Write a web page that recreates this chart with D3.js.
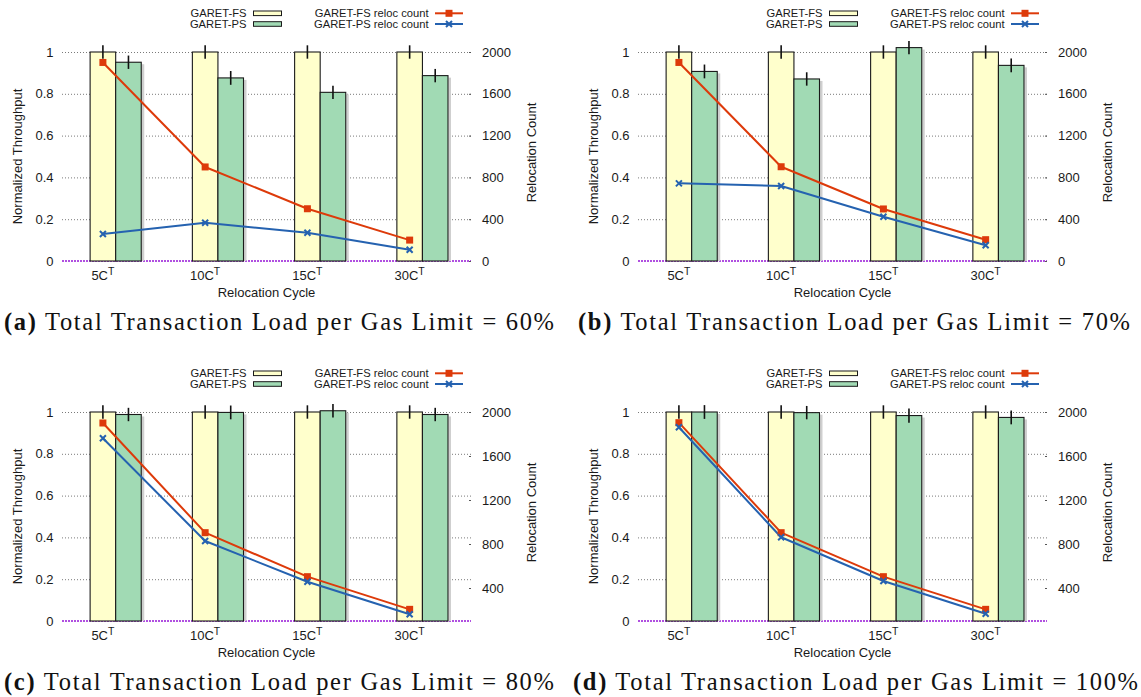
<!DOCTYPE html>
<html><head><meta charset="utf-8">
<script src="https://cdn.jsdelivr.net/npm/d3@7"></script>
<style>
body{margin:0;background:#fff;}
svg{display:block;}
text{font-family:"Liberation Sans",Arial,Helvetica,sans-serif;fill:#1a1a1a;}
</style>
</head><body>
<svg id="chart" width="1141" height="697"></svg>
<script>
// ---------------- data ----------------
const categories = ["5C", "10C", "15C", "30C"];
const seriesNames = ["GARET-FS", "GARET-PS"];
const lineNames = ["GARET-FS reloc count", "GARET-PS reloc count"];
const panelLetters = ["(a)", "(b)", "(c)", "(d)"];
const loadLevels = ["60%", "70%", "80%", "100%"];

// Normalized throughput (bars)
const fsThroughputA = [1, 1, 1, 1];
const psThroughputA = [0.951, 0.876, 0.807, 0.887];
const fsThroughputB = [1, 1, 1, 1];
const psThroughputB = [0.907, 0.871, 1.021, 0.936];
const fsThroughputC = [1, 1, 1, 1];
const psThroughputC = [0.988, 0.998, 1.006, 0.988];
const fsThroughputD = [1, 1, 1, 1];
const psThroughputD = [1.0, 0.997, 0.983, 0.974];

// error bar half-lengths
const fsErrA = [0.032, 0.032, 0.032, 0.032];
const psErrA = [0.032, 0.033, 0.032, 0.032];
const fsErrB = [0.032, 0.032, 0.032, 0.032];
const psErrB = [0.033, 0.032, 0.032, 0.033];
const fsErrC = [0.032, 0.032, 0.032, 0.032];
const psErrC = [0.032, 0.033, 0.032, 0.032];
const fsErrD = [0.032, 0.032, 0.032, 0.032];
const psErrD = [0.033, 0.032, 0.034, 0.033];

// Relocation counts (lines, right axis)
const fsRelocA = [1900, 900, 500, 200];
const psRelocA = [258, 366, 271, 108];
const fsRelocB = [1900, 902, 498, 204];
const psRelocB = [743, 718, 424, 150];
const fsRelocC = [1900, 903, 503, 206];
const psRelocC = [1761, 827, 457, 161];
const fsRelocD = [1903, 903, 503, 206];
const psRelocD = [1861, 861, 464, 166];

// tick labels
const yTicks = [0, 0.2, 0.4, 0.6, 0.8, 1];
const y2TicksAB = [0, 400, 800, 1200, 1600, 2000];
const y2TicksCD = [400, 800, 1200, 1600, 2000];
const y2DomainAB = [0, 2000];
const y2DomainCD = [100, 2000];

const panels = [
  {fs: fsThroughputA, ps: psThroughputA, fsE: fsErrA, psE: psErrA, fsR: fsRelocA, psR: psRelocA, y2d: y2DomainAB, y2t: y2TicksAB},
  {fs: fsThroughputB, ps: psThroughputB, fsE: fsErrB, psE: psErrB, fsR: fsRelocB, psR: psRelocB, y2d: y2DomainAB, y2t: y2TicksAB},
  {fs: fsThroughputC, ps: psThroughputC, fsE: fsErrC, psE: psErrC, fsR: fsRelocC, psR: psRelocC, y2d: y2DomainCD, y2t: y2TicksCD},
  {fs: fsThroughputD, ps: psThroughputD, fsE: fsErrD, psE: psErrD, fsR: fsRelocD, psR: psRelocD, y2d: y2DomainCD, y2t: y2TicksCD}
];

// ---------------- layout / style ----------------
const origins = [[0, 0], [576, 0], [0, 360], [576, 360]];
const captionX = [4, 578, 4, 573];
const captionW = [550, 552, 550, 565];
const FS_FILL = "#ffffcc", PS_FILL = "#a1dab4";
const RED = "#dd3a0a", BLUE = "#2562b0";
const PLOT_L = 62, PLOT_R = 471, Y0 = 261, Y1 = 52;
const BW = 0.25;

const svg = d3.select("#chart");

panels.forEach((p, pi) => {
  const g = svg.append("g").attr("transform", `translate(${origins[pi][0]},${origins[pi][1]})`);
  const x = d3.scaleLinear().domain([-0.4, 3.6]).range([PLOT_L, PLOT_R]);
  const y = d3.scaleLinear().domain([0, 1]).range([Y0, Y1]);
  const y2 = d3.scaleLinear().domain(p.y2d).range([Y0, Y1]);

  // grid lines
  g.append("g").selectAll("line").data(yTicks.filter(t => t > 0)).join("line")
    .attr("x1", PLOT_L).attr("x2", PLOT_R)
    .attr("y1", d => y(d) + 0.5).attr("y2", d => y(d) + 0.5)
    .attr("stroke", "#7a7a7a").attr("stroke-width", 1).attr("stroke-dasharray", "1,2");

  // zero axis (purple dotted)
  g.append("line").attr("x1", PLOT_L).attr("x2", PLOT_R)
    .attr("y1", y(0)).attr("y2", y(0))
    .attr("stroke", "#b050e0").attr("stroke-width", 2).attr("stroke-dasharray", "2,1");

  // left tick labels
  g.append("g").selectAll("text").data(yTicks).join("text")
    .attr("x", 53.5).attr("y", d => y(d) + 4.6)
    .attr("text-anchor", "end").style("font-size", "13px")
    .text(d => d3.format("~g")(d));

  // right ticks + labels
  g.append("g").selectAll("line").data(p.y2t).join("line")
    .attr("x1", PLOT_R - 2).attr("x2", PLOT_R)
    .attr("y1", d => y2(d) + 0.5).attr("y2", d => y2(d) + 0.5)
    .attr("stroke", "#555").attr("stroke-width", 1);
  g.append("g").selectAll("text").data(p.y2t).join("text")
    .attr("x", 482).attr("y", d => y2(d) + 4.6)
    .attr("text-anchor", "start").style("font-size", "13px")
    .text(d => d);

  // bar shadows
  g.append("g").selectAll("rect").data(p.ps).join("rect")
    .attr("x", (d, i) => x(i + 0.375) + 0.5).attr("width", 2.5)
    .attr("y", d => y(d) + 2).attr("height", d => y(0) - y(d) - 2)
    .attr("fill", "#cfcfcf");

  // FS bars
  g.append("g").selectAll("rect").data(p.fs).join("rect")
    .attr("x", (d, i) => x(i - 0.125)).attr("width", x(BW) - x(0))
    .attr("y", d => y(d)).attr("height", d => y(0) - y(d))
    .attr("fill", FS_FILL).attr("stroke", "#1a1a1a").attr("stroke-width", 1.1);
  // PS bars
  g.append("g").selectAll("rect").data(p.ps).join("rect")
    .attr("x", (d, i) => x(i + 0.125)).attr("width", x(BW) - x(0))
    .attr("y", d => y(d)).attr("height", d => y(0) - y(d))
    .attr("fill", PS_FILL).attr("stroke", "#1a1a1a").attr("stroke-width", 1.1);

  // error bars
  g.append("g").selectAll("line").data(p.fs).join("line")
    .attr("x1", (d, i) => x(i)).attr("x2", (d, i) => x(i))
    .attr("y1", (d, i) => y(d - p.fsE[i])).attr("y2", (d, i) => y(d + p.fsE[i]))
    .attr("stroke", "#111").attr("stroke-width", 1.6);
  g.append("g").selectAll("line").data(p.ps).join("line")
    .attr("x1", (d, i) => x(i + 0.25)).attr("x2", (d, i) => x(i + 0.25))
    .attr("y1", (d, i) => y(d - p.psE[i])).attr("y2", (d, i) => y(d + p.psE[i]))
    .attr("stroke", "#111").attr("stroke-width", 1.6);

  // lines
  const line = d3.line().x((d, i) => x(i)).y(d => y2(d));
  g.append("path").datum(p.fsR).attr("d", line)
    .attr("fill", "none").attr("stroke", RED).attr("stroke-width", 2).attr("stroke-linejoin", "round");
  g.append("path").datum(p.psR).attr("d", line)
    .attr("fill", "none").attr("stroke", BLUE).attr("stroke-width", 2).attr("stroke-linejoin", "round");

  // markers
  g.append("g").selectAll("rect").data(p.fsR).join("rect")
    .attr("x", (d, i) => x(i) - 3.5).attr("y", d => y2(d) - 3.5)
    .attr("width", 7).attr("height", 7).attr("fill", RED);
  const xs = g.append("g");
  p.psR.forEach((d, i) => {
    const cx = x(i), cy = y2(d), s = 3;
    xs.append("path").attr("d", `M${cx - s},${cy - s}L${cx + s},${cy + s}M${cx - s},${cy + s}L${cx + s},${cy - s}`)
      .attr("stroke", BLUE).attr("stroke-width", 2);
  });

  // x tick labels
  g.append("g").selectAll("text").data(categories).join("text")
    .attr("x", (d, i) => x(i)).attr("y", 280)
    .attr("text-anchor", "middle").style("font-size", "13px")
    .each(function (d) {
      const t = d3.select(this);
      t.append("tspan").text(d);
      t.append("tspan").attr("dy", -5).style("font-size", "10.5px").text("T");
    });

  // axis titles
  g.append("text").attr("x", (PLOT_L + PLOT_R) / 2).attr("y", 297)
    .attr("text-anchor", "middle").style("font-size", "13px").text("Relocation Cycle");
  g.append("text").attr("transform", `translate(21.6,${(Y0 + Y1) / 2}) rotate(-90)`)
    .attr("text-anchor", "middle").style("font-size", "13px").text("Normalized Throughput");
  g.append("text").attr("transform", `translate(536,${(Y0 + Y1) / 2 - 4}) rotate(-90)`)
    .attr("text-anchor", "middle").style("font-size", "13px").text("Relocation Count");

  // legend
  const lg = g.append("g");
  const rowsY = [13.3, 24];
  seriesNames.forEach((n, k) => {
    lg.append("text").attr("x", 246.5).attr("y", rowsY[k] + 4)
      .attr("text-anchor", "end").style("font-size", "11.2px").text(n);
    lg.append("rect").attr("x", 253.5).attr("y", rowsY[k] - 2.3).attr("width", 28).attr("height", 4.6)
      .attr("fill", k === 0 ? FS_FILL : PS_FILL).attr("stroke", "#1a1a1a").attr("stroke-width", 1);
  });
  lineNames.forEach((n, k) => {
    lg.append("text").attr("x", 428.5).attr("y", rowsY[k] + 4)
      .attr("text-anchor", "end").style("font-size", "11.2px").text(n);
    lg.append("line").attr("x1", 435).attr("x2", 463).attr("y1", rowsY[k]).attr("y2", rowsY[k])
      .attr("stroke", k === 0 ? RED : BLUE).attr("stroke-width", 2);
    if (k === 0) {
      lg.append("rect").attr("x", 449 - 3.5).attr("y", rowsY[k] - 3.5).attr("width", 7).attr("height", 7).attr("fill", RED);
    } else {
      const cx = 449, cy = rowsY[k], s = 3;
      lg.append("path").attr("d", `M${cx - s},${cy - s}L${cx + s},${cy + s}M${cx - s},${cy + s}L${cx + s},${cy - s}`)
        .attr("stroke", BLUE).attr("stroke-width", 2);
    }
  });

  // caption
  const cap = svg.append("text")
    .attr("x", captionX[pi]).attr("y", origins[pi][1] + 330)
    .style("font-family", "'Liberation Serif','Times New Roman',serif")
    .style("font-size", "22px").style("fill", "#111");
  cap.append("tspan").style("font-weight", "bold").text(panelLetters[pi]);
  cap.append("tspan").text(" Total Transaction Load per Gas Limit = " + loadLevels[pi]);
  const w0 = cap.node().getComputedTextLength();
  const fsz = Math.min(24.5, 22 * Math.pow(captionW[pi] / w0, 0.7));
  cap.style("font-size", fsz + "px");
  const w1 = cap.node().getComputedTextLength();
  const n = cap.text().length;
  cap.style("letter-spacing", Math.max(0, (captionW[pi] - w1) / (n - 1)) + "px");
});
</script>
</body></html>
